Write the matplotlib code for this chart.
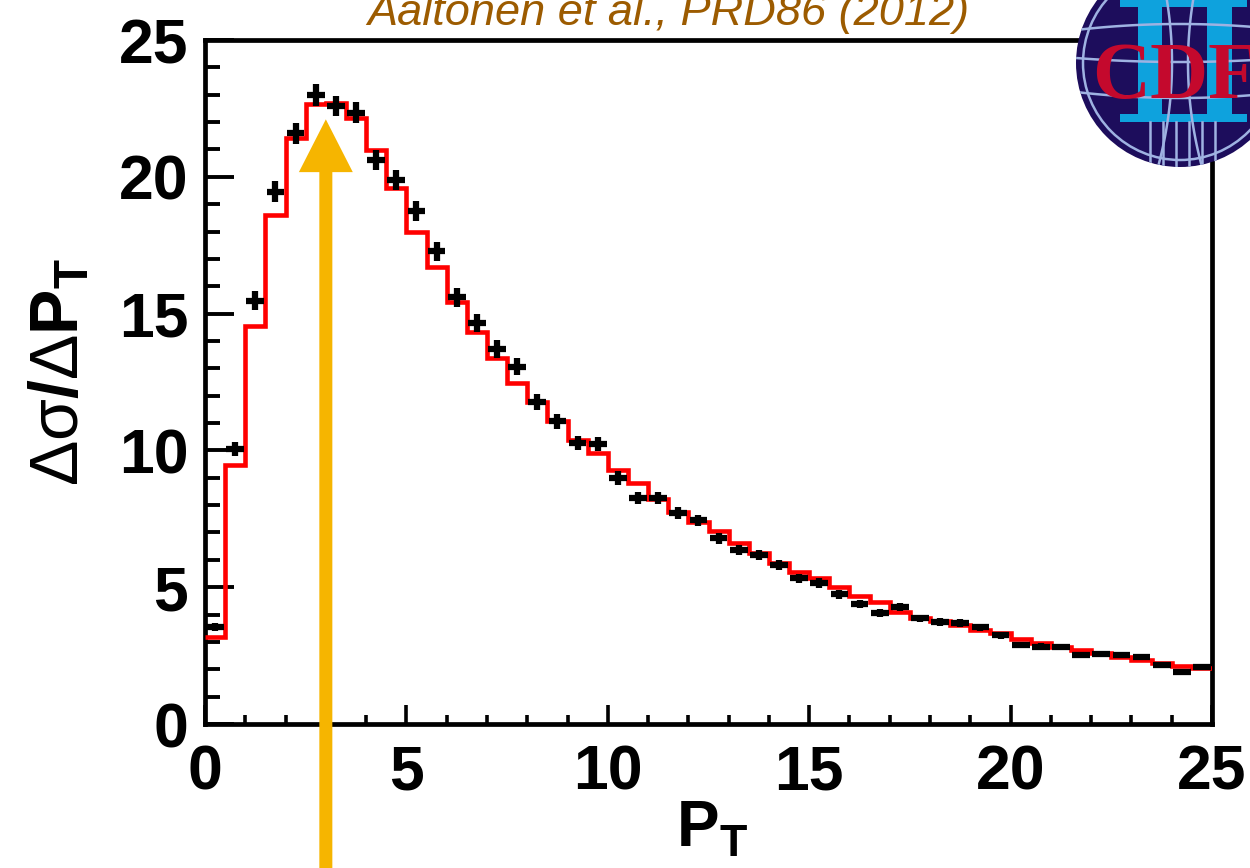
import numpy as np
import matplotlib
matplotlib.use("Agg")
import matplotlib.pyplot as plt
from matplotlib.patches import Circle, Rectangle
from matplotlib.ticker import MultipleLocator

# ---------------- data ----------------
bin_edges = np.linspace(0.0, 25.0, 51)
bin_centers = 0.5 * (bin_edges[:-1] + bin_edges[1:])

data_values = [3.55, 10.04, 15.47, 19.46, 21.59, 22.99, 22.59, 22.34, 20.61, 19.88,
               18.75, 17.28, 15.60, 14.66, 13.70, 13.05, 11.77, 11.07, 10.27, 10.23,
               8.99, 8.26, 8.26, 7.71, 7.44, 6.79, 6.36, 6.18, 5.81, 5.33,
               5.15, 4.74, 4.38, 4.07, 4.29, 3.86, 3.72, 3.70, 3.53, 3.25,
               2.89, 2.83, 2.81, 2.52, 2.56, 2.51, 2.44, 2.15, 1.89, 2.10]

data_errors = [0.15, 0.26, 0.35, 0.37, 0.38, 0.40, 0.38, 0.38, 0.37, 0.36,
               0.36, 0.35, 0.35, 0.33, 0.32, 0.31, 0.28, 0.27, 0.25, 0.25,
               0.24, 0.23, 0.23, 0.22, 0.20, 0.20, 0.19, 0.19, 0.18, 0.17,
               0.17, 0.16, 0.15, 0.15, 0.15, 0.14, 0.14, 0.14, 0.13, 0.13,
               0.12, 0.12, 0.12, 0.11, 0.11, 0.11, 0.11, 0.10, 0.10, 0.10]

mc_values = [3.17, 9.47, 14.55, 18.60, 21.40, 22.65, 22.70, 22.14, 20.98, 19.58,
             18.00, 16.71, 15.43, 14.34, 13.36, 12.45, 11.78, 11.09, 10.38, 9.90,
             9.28, 8.80, 8.23, 7.76, 7.40, 7.05, 6.60, 6.26, 5.90, 5.57,
             5.32, 4.99, 4.68, 4.47, 4.10, 3.86, 3.78, 3.62, 3.45, 3.31,
             3.10, 2.95, 2.83, 2.70, 2.58, 2.44, 2.34, 2.24, 2.12, 2.03]

x_tick_labels = ["0", "5", "10", "15", "20", "25"]
y_tick_labels = ["0", "5", "10", "15", "20", "25"]
citation = "Aaltonen et al., PRD86 (2012)"
arrow_x = 3.0
arrow_tip = 22.1
arrow_tail = -5.4

# ---------------- style ----------------
plt.rcParams["font.family"] = ["Liberation Sans", "DejaVu Sans"]
plt.rcParams["mathtext.fontset"] = "custom"
plt.rcParams["mathtext.rm"] = "Liberation Sans"
plt.rcParams["mathtext.it"] = "Liberation Sans:italic"
plt.rcParams["mathtext.bf"] = "Liberation Sans:bold"
plt.rcParams["mathtext.sf"] = "Liberation Sans"

W, H = 1250, 868
fig = plt.figure(figsize=(W / 100, H / 100), dpi=100)
fig.patch.set_facecolor("white")

ax = fig.add_axes([205 / W, 1 - 724 / H, (1212 - 205) / W, (724 - 40) / H])
ax.set_xlim(0, 25)
ax.set_ylim(0, 25)

# MC histogram
ax.stairs(mc_values, bin_edges, baseline=None, color="#ff0000", lw=3.3, zorder=3)

# data crosses
ax.errorbar(bin_centers, data_values, xerr=0.22, yerr=data_errors, fmt="none",
            ecolor="black", elinewidth=4.5, capsize=0, zorder=4)

# axes styling
for sp in ax.spines.values():
    sp.set_linewidth(3.4)
ax.xaxis.set_major_locator(MultipleLocator(5))
ax.xaxis.set_minor_locator(MultipleLocator(1))
ax.yaxis.set_major_locator(MultipleLocator(5))
ax.yaxis.set_minor_locator(MultipleLocator(1))
ax.set_xticks(np.arange(0, 26, 5))
ax.set_xticklabels(x_tick_labels)
ax.set_yticks(np.arange(0, 26, 5))
ax.set_yticklabels(y_tick_labels)
ax.tick_params(axis="both", which="both", direction="in", top=False, right=False)
ax.tick_params(axis="y", which="major", length=21, width=2.8, pad=12,
               labelsize=45)
ax.tick_params(axis="y", which="minor", length=10.5, width=2.8)
ax.tick_params(axis="x", which="major", length=14, width=2.6, pad=14,
               labelsize=45)
ax.tick_params(axis="x", which="minor", length=6.5, width=2.6)
for lab in ax.get_xticklabels() + ax.get_yticklabels():
    lab.set_fontweight("bold")

# axis labels
fig.text(60 / W, 1 - 372 / H,
         r"$\mathrm{\Delta\sigma}\mathbf{/}\mathrm{\Delta}\mathbf{P}_\mathbf{T}$",
         rotation=90, ha="center", va="center", fontsize=49)
fig.text(712 / W, 1 - 800 / H, r"$\mathbf{P}_\mathbf{T}$",
         ha="center", va="top", fontsize=46)

# citation
fig.text(668 / W, 1 - 25 / H, citation, fontsize=32.5, style="italic",
         color="#9c5b00", ha="center", va="baseline")

# arrow
ax.annotate("", xy=(arrow_x, arrow_tip), xytext=(arrow_x, arrow_tail),
            xycoords="data", textcoords="data", annotation_clip=False,
            arrowprops=dict(arrowstyle="simple,head_length=0.95,head_width=0.97,tail_width=0.234",
                            mutation_scale=40, fc="#f6b500", ec="none", lw=0,
                            shrinkA=0, shrinkB=0, clip_on=False),
            zorder=10)

# ---------------- CDF logo (pixel coordinates) ----------------
lg = fig.add_axes([0, 0, 1, 1], zorder=20)
lg.set_xlim(0, W)
lg.set_ylim(H, 0)
lg.axis("off")
lg.patch.set_alpha(0)
cx, cy, r = 1180, 63, 104
disk = Circle((cx, cy), r, fc="#1d0d5c", ec="none")
lg.add_patch(disk)
clipc = Circle((cx, cy), r, transform=lg.transData)
line_col = "#9fb2e2"
lg.add_patch(Circle((cx, cy), r - 7, fill=False, ec=line_col, lw=1.8))
tt = np.linspace(-1, 1, 60)
for yy, bow in [(30, -6), (58, 4), (92, 6)]:
    xs = cx + tt * r
    ys = yy + bow * (1 - tt ** 2)
    l, = lg.plot(xs, ys, color=line_col, lw=1.8)
    l.set_clip_path(clipc)
for sgn in (-1, 1):
    ys = np.linspace(cy - r, cy + r, 60)
    xs = cx + sgn * (8 + 14 * ((ys - cy) / r) ** 2)
    l, = lg.plot(xs, ys, color=line_col, lw=1.8)
    l.set_clip_path(clipc)
for xv in [1150, 1163, 1176, 1189, 1202, 1215]:
    l, = lg.plot([xv, xv], [122, 175], color=line_col, lw=1.8)
    l.set_clip_path(clipc)
blue = "#0ea2dd"
for (x0, y0, w, h) in [(1120, -10, 127, 17), (1138, 0, 24, 120),
                       (1207, 0, 25, 120), (1120, 114, 127, 8)]:
    rp = Rectangle((x0, y0), w, h, fc=blue, ec="none")
    lg.add_patch(rp)
    rp.set_clip_path(clipc)
ct = lg.text(1092, 98, "CDF", fontsize=58, family="Liberation Serif",
             weight="bold", color="#c4092d", ha="left", va="baseline")
ct.set_clip_path(clipc)

fig.savefig("out.png", dpi=100, facecolor="white")
